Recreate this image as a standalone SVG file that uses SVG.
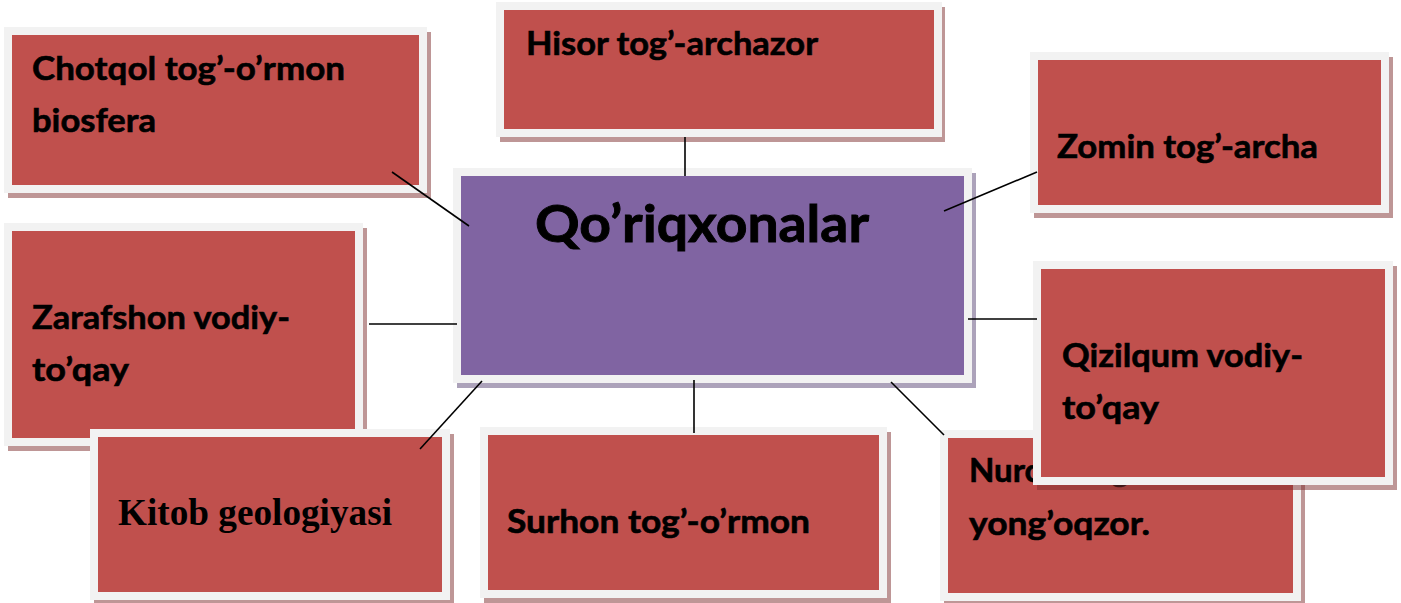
<svg xmlns="http://www.w3.org/2000/svg" width="1401" height="603" viewBox="0 0 1401 603">
<style>
.bg{fill:#ffffff}
.frame{fill:#f2f2f2}
.red{fill:#c0504d}
.pur{fill:#8064a2}
.shr{fill:#7d2d2d;fill-opacity:0.5}
.shp{fill:#594575;fill-opacity:0.5}
.t{font-family:Lato,"Open Sans","Liberation Sans",sans-serif;font-weight:bold;font-size:33px;fill:#000;stroke:#000;stroke-width:0.6}
.tc{font-family:Lato,"Open Sans","Liberation Sans",sans-serif;font-weight:bold;font-size:52px;fill:#000;stroke:#000;stroke-width:0.9}
.ts{font-family:"Liberation Serif","Times New Roman",serif;font-weight:bold;font-size:37px;fill:#000}
.c{stroke:#000;stroke-width:1.6;fill:none}
</style>
<rect class="bg" x="0" y="0" width="1401" height="603"/>

<g id="node-chotqol">
<rect class="shr" x="8" y="32" width="423" height="166"/>
<rect class="frame" x="4" y="27" width="423" height="166"/>
<rect class="red" x="12" y="35" width="407" height="150"/>
<text class="t" x="32" y="80" textLength="313" lengthAdjust="spacingAndGlyphs">Chotqol tog’-o’rmon</text>
<text class="t" x="32" y="132" textLength="124" lengthAdjust="spacingAndGlyphs">biosfera</text>
</g>

<g id="node-hisor">
<rect class="shr" x="500" y="7" width="445" height="135"/>
<rect class="frame" x="496" y="2" width="446" height="135"/>
<rect class="red" x="504" y="10" width="430" height="119"/>
<text class="t" x="526" y="55" textLength="292" lengthAdjust="spacingAndGlyphs">Hisor tog’-archazor</text>
</g>

<g id="node-zomin">
<rect class="shr" x="1034" y="57" width="359" height="161"/>
<rect class="frame" x="1030" y="52" width="359" height="161"/>
<rect class="red" x="1038" y="60" width="343" height="145"/>
<text class="t" x="1057" y="158" textLength="261" lengthAdjust="spacingAndGlyphs">Zomin tog’-archa</text>
</g>

<g id="node-zarafshon">
<rect class="shr" x="8" y="228" width="359" height="223"/>
<rect class="frame" x="4" y="223" width="359" height="223"/>
<rect class="red" x="12" y="231" width="343" height="207"/>
<text class="t" x="32" y="329" textLength="258" lengthAdjust="spacingAndGlyphs">Zarafshon vodiy-</text>
<text class="t" x="32" y="381" textLength="97" lengthAdjust="spacingAndGlyphs">to’qay</text>
</g>

<g id="node-kitob">
<rect class="shr" x="94" y="434" width="360" height="171"/>
<rect class="frame" x="90" y="429" width="360" height="171"/>
<rect class="red" x="98" y="437" width="344" height="155"/>
<text class="ts" x="118" y="525" textLength="274" lengthAdjust="spacingAndGlyphs">Kitob geologiyasi</text>
</g>

<g id="node-surhon">
<rect class="shr" x="484" y="432" width="407" height="171"/>
<rect class="frame" x="480" y="427" width="407" height="171"/>
<rect class="red" x="488" y="435" width="391" height="155"/>
<text class="t" x="507" y="533" textLength="303" lengthAdjust="spacingAndGlyphs">Surhon tog’-o’rmon</text>
</g>

<g id="node-nurota">
<rect class="shr" x="944" y="435" width="361" height="171"/>
<rect class="frame" x="940" y="430" width="361" height="171"/>
<rect class="red" x="948" y="438" width="345" height="155"/>
<text class="t" x="969" y="482">Nurota tog’-</text>
<text class="t" x="969" y="535" textLength="181" lengthAdjust="spacingAndGlyphs">yong’oqzor.</text>
</g>

<g id="node-qizilqum">
<rect class="shr" x="1037" y="266" width="360" height="224"/>
<rect class="frame" x="1033" y="261" width="360" height="224"/>
<rect class="red" x="1041" y="269" width="344" height="208"/>
<text class="t" x="1062" y="367" textLength="241" lengthAdjust="spacingAndGlyphs">Qizilqum vodiy-</text>
<text class="t" x="1062" y="419" textLength="97" lengthAdjust="spacingAndGlyphs">to’qay</text>
</g>

<g id="node-center">
<rect class="shp" x="457" y="173" width="519" height="215"/>
<rect class="frame" x="453" y="168" width="519" height="215"/>
<rect class="pur" x="461" y="176" width="503" height="199"/>
<text class="tc" x="535" y="242" textLength="334" lengthAdjust="spacingAndGlyphs">Qo’riqxonalar</text>
</g>

<g id="connectors">
<line class="c" x1="392" y1="172" x2="469" y2="226"/>
<line class="c" x1="685" y1="137" x2="685" y2="176"/>
<line class="c" x1="944" y1="211" x2="1037" y2="172"/>
<line class="c" x1="369" y1="324" x2="457" y2="324"/>
<line class="c" x1="968" y1="319" x2="1037" y2="319"/>
<line class="c" x1="482" y1="381" x2="420" y2="449"/>
<line class="c" x1="694" y1="380" x2="694" y2="433"/>
<line class="c" x1="891" y1="382" x2="944" y2="435"/>
</g>
</svg>
